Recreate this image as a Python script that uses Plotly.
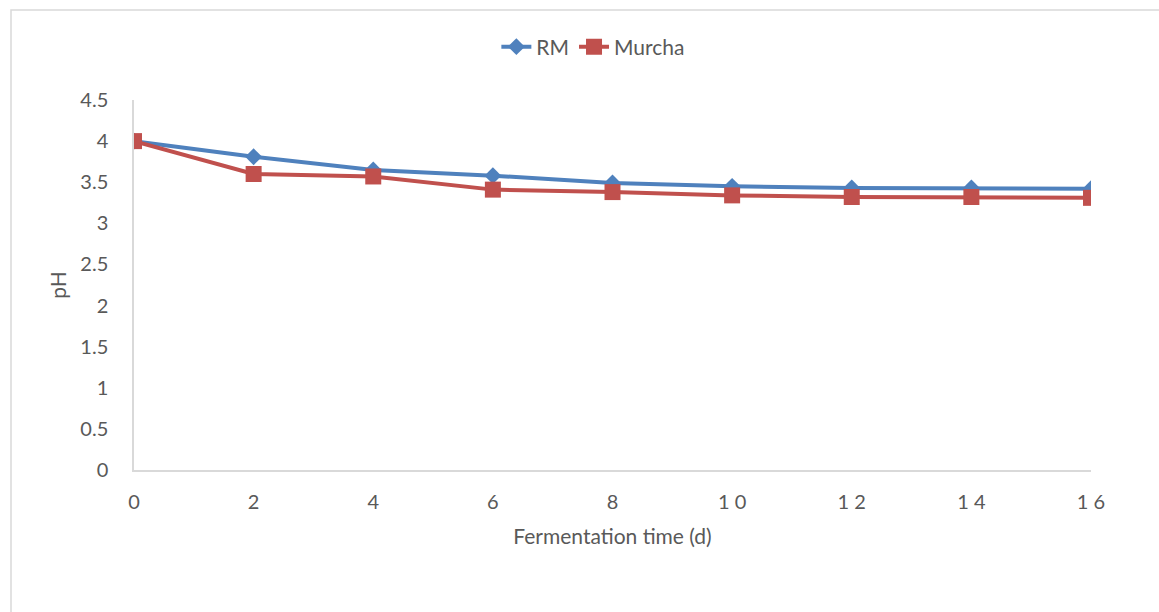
import plotly.graph_objects as go

days = [0, 2, 4, 6, 8, 10, 12, 14, 16]
rm = [4.0, 3.81, 3.65, 3.58, 3.49, 3.45, 3.43, 3.43, 3.42]
murcha = [4.0, 3.60, 3.57, 3.41, 3.38, 3.34, 3.32, 3.32, 3.31]
y_ticks = [0, 0.5, 1, 1.5, 2, 2.5, 3, 3.5, 4, 4.5]
y_labels = ["0", "0.5", "1", "1.5", "2", "2.5", "3", "3.5", "4", "4.5"]
x_labels = ["0", "2", "4", "6", "8", "1 0", "1 2", "1 4", "1 6"]

W, H = 1159, 612
L, R, T, B = 134, 1091, 100, 470
FONT = "Lato"
TXT = "#595959"

fig = go.Figure()
fig.add_trace(go.Scatter(x=days, y=rm, name="RM", mode="lines+markers",
                         line=dict(color="#4F81BD", width=4),
                         marker=dict(symbol="diamond", size=13, color="#4F81BD")))
fig.add_trace(go.Scatter(x=days, y=murcha, name="Murcha", mode="lines+markers",
                         line=dict(color="#C0504D", width=4),
                         marker=dict(symbol="square", size=16, color="#C0504D")))

fig.update_layout(
    width=W, height=H,
    margin=dict(l=L, r=W - R, t=T, b=H - B),
    paper_bgcolor="white", plot_bgcolor="white",
    font=dict(family=FONT, color=TXT, size=20),
    showlegend=True,
    legend=dict(orientation="h", x=0.48, xanchor="center", y=(B - 47) / (B - T),
                yanchor="middle", font=dict(size=21, color=TXT),
                bgcolor="rgba(0,0,0,0)"),
    xaxis=dict(range=[0, 16], tickvals=days, ticktext=x_labels, showgrid=False,
               zeroline=False, showline=True, linecolor="#D9D9D9", linewidth=1.5,
               ticks="", ticklabelstandoff=13, tickfont=dict(size=20, color=TXT),
               title=dict(text="Fermentation time (d)", font=dict(size=21, color=TXT), standoff=18)),
    yaxis=dict(range=[0, 4.5], tickvals=y_ticks, ticktext=y_labels, showgrid=False,
               zeroline=False, showline=True, linecolor="#D9D9D9", linewidth=1.5,
               ticks="", ticklabelstandoff=20, tickfont=dict(size=20, color=TXT),
               title=dict(text="pH", font=dict(size=21, color=TXT), standoff=8)),
    shapes=[dict(type="rect", xref="paper", yref="paper",
                 x0=(11 - L) / (R - L), x1=(1200 - L) / (R - L),
                 y0=(B - 700) / (B - T), y1=(B - 10) / (B - T),
                 line=dict(color="#D9D9D9", width=1.5), fillcolor="rgba(0,0,0,0)", layer="below")],
)

fig.write_html("out.html")
